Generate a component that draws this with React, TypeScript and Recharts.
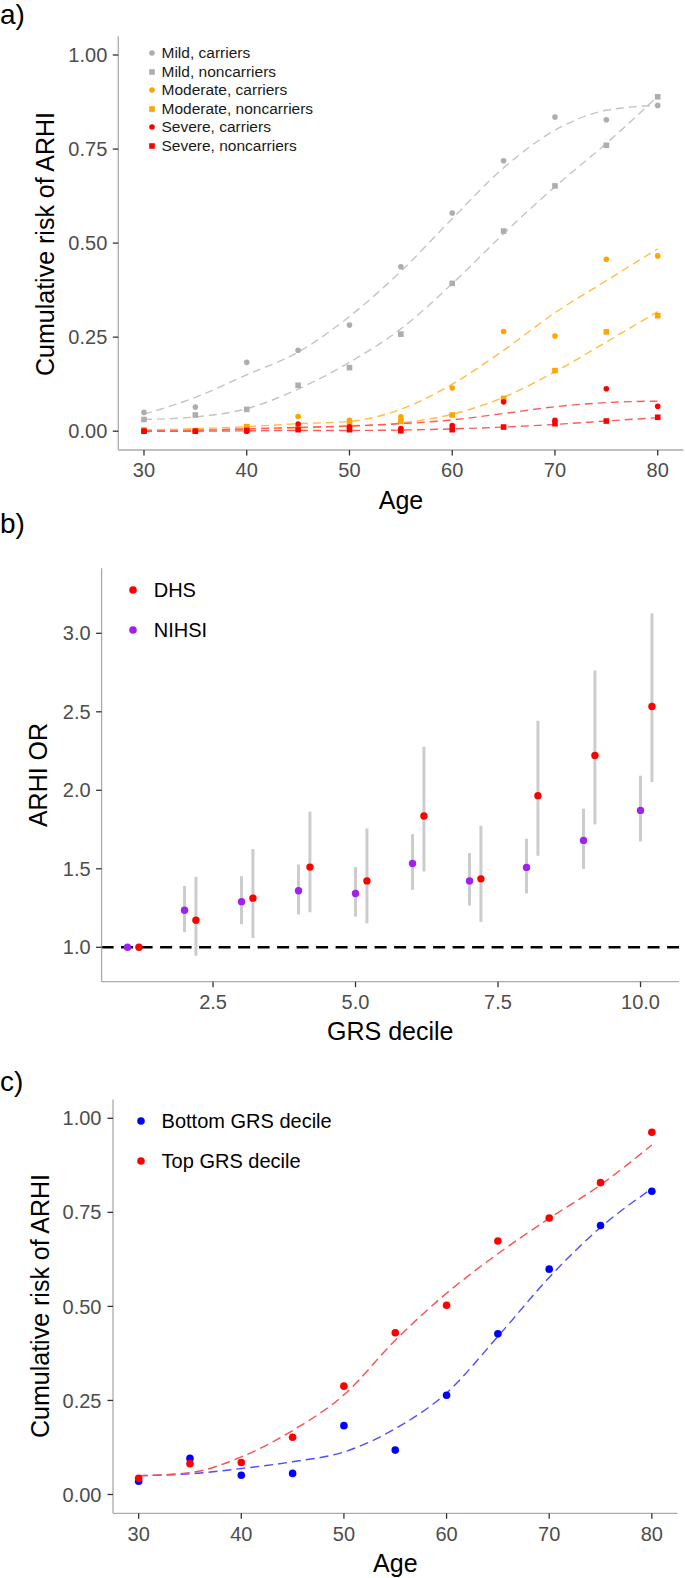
import React from "react";
import { ComposedChart, Line, Scatter, XAxis, YAxis, ReferenceLine, ErrorBar } from "recharts";

// a) cumulative risk of ARHI by age, severity and carrier status
const ages = [30, 35, 40, 45, 50, 55, 60, 65, 70, 75, 80];
const mildCarriers = [0.05, 0.064, 0.183, 0.215, 0.282, 0.437, 0.58, 0.719, 0.835, 0.828, 0.866];
const mildNoncarriers = [0.031, 0.043, 0.058, 0.122, 0.169, 0.258, 0.393, 0.532, 0.652, 0.76, 0.889];
const moderateCarriers = [0.003, 0.001, 0.01, 0.039, 0.029, 0.038, 0.115, 0.265, 0.253, 0.457, 0.466];
const moderateNoncarriers = [0.003, 0.001, 0.012, 0.008, 0.02, 0.026, 0.043, 0.087, 0.161, 0.264, 0.307];
const severeCarriers = [0.0, 0.0, 0.0, 0.019, 0.012, 0.007, 0.015, 0.078, 0.029, 0.113, 0.066];
const severeNoncarriers = [0.0, 0.0, 0.002, 0.004, 0.004, 0.001, 0.004, 0.011, 0.02, 0.027, 0.037];
// smoothed fits
const mildCarriersFit = [0.045, 0.09, 0.15, 0.21, 0.305, 0.425, 0.565, 0.7, 0.8, 0.853, 0.866];
const mildNoncarriersFit = [0.031, 0.038, 0.06, 0.112, 0.183, 0.272, 0.392, 0.525, 0.65, 0.765, 0.89];
const moderateCarriersFit = [0.003, 0.007, 0.012, 0.02, 0.026, 0.058, 0.125, 0.215, 0.315, 0.4, 0.485];
const moderateNoncarriersFit = [0.003, 0.004, 0.006, 0.009, 0.013, 0.022, 0.045, 0.09, 0.158, 0.237, 0.318];
const severeCarriersFit = [0.0, 0.002, 0.006, 0.01, 0.014, 0.02, 0.03, 0.047, 0.065, 0.076, 0.08];
const severeNoncarriersFit = [0.0, 0.0, 0.001, 0.002, 0.002, 0.003, 0.006, 0.011, 0.018, 0.027, 0.036];
const ageTicks = [30, 40, 50, 60, 70, 80];
const riskTicks = [0, 0.25, 0.5, 0.75, 1];

// b) odds ratio by GRS decile
const deciles = [1, 2, 3, 4, 5, 6, 7, 8, 9, 10];
const nihsiOR = [1.0, 1.236, 1.291, 1.36, 1.343, 1.534, 1.423, 1.509, 1.681, 1.872];
const nihsiLow = [1.0, 1.096, 1.147, 1.209, 1.196, 1.366, 1.266, 1.343, 1.5, 1.674];
const nihsiHigh = [1.0, 1.391, 1.453, 1.528, 1.511, 1.721, 1.6, 1.691, 1.883, 2.093];
const dhsOR = [1.0, 1.172, 1.313, 1.511, 1.423, 1.836, 1.436, 1.966, 2.222, 2.534];
const dhsLow = [1.0, 0.947, 1.06, 1.223, 1.153, 1.483, 1.162, 1.583, 1.783, 2.053];
const dhsHigh = [1.0, 1.449, 1.626, 1.864, 1.757, 2.278, 1.774, 2.443, 2.763, 3.127];
const decileTicks = [2.5, 5, 7.5, 10];
const orTicks = [1, 1.5, 2, 2.5, 3];
const DHS_DODGE = 0.2;

// c) cumulative risk, bottom vs top GRS decile
const bottomGrs = [0.035, 0.096, 0.051, 0.056, 0.183, 0.118, 0.264, 0.427, 0.599, 0.715, 0.806];
const topGrs = [0.043, 0.082, 0.085, 0.152, 0.288, 0.43, 0.503, 0.674, 0.735, 0.829, 0.963];
const bottomGrsFit = [0.05, 0.055, 0.069, 0.087, 0.113, 0.175, 0.27, 0.42, 0.577, 0.71, 0.813];
const topGrsFit = [0.05, 0.058, 0.1, 0.17, 0.265, 0.41, 0.535, 0.64, 0.734, 0.823, 0.929];

const FONT = '"Liberation Sans", Arial, Helvetica, sans-serif';
const tick = { fontSize: 20, fill: "#4D4D4D", fontFamily: FONT };
const axisLine = { stroke: "#ABABAB", strokeWidth: 1.3 };
const tickLine = { stroke: "#333333", strokeWidth: 1.3 };

const circle = (r: number, fill: string) => (p: any) => <circle cx={p.cx} cy={p.cy} r={r} fill={fill} />;
const square = (s: number, fill: string) => (p: any) => (
  <rect x={p.cx - s / 2} y={p.cy - s / 2} width={s} height={s} fill={fill} />
);

const severitySeries = [
  { name: "Mild, carriers", values: mildCarriers, fit: mildCarriersFit, color: "#ADADAD", line: "#C4C4C4", sq: false },
  { name: "Mild, noncarriers", values: mildNoncarriers, fit: mildNoncarriersFit, color: "#ADADAD", line: "#C4C4C4", sq: true },
  { name: "Moderate, carriers", values: moderateCarriers, fit: moderateCarriersFit, color: "#FFA500", line: "#FFBD45", sq: false },
  { name: "Moderate, noncarriers", values: moderateNoncarriers, fit: moderateNoncarriersFit, color: "#FFA500", line: "#FFBD45", sq: true },
  { name: "Severe, carriers", values: severeCarriers, fit: severeCarriersFit, color: "#FF0000", line: "#FF5A5A", sq: false },
  { name: "Severe, noncarriers", values: severeNoncarriers, fit: severeNoncarriersFit, color: "#FF0000", line: "#FF5A5A", sq: true },
];

function Label({ x, y, size, rotate, children, left }: any) {
  return (
    <div
      style={{
        position: "absolute",
        left: x,
        top: y,
        fontSize: size,
        lineHeight: 1,
        whiteSpace: "nowrap",
        color: "#000",
        transform: left ? "translate(0,-50%)" : `translate(-50%,-50%)${rotate ? " rotate(-90deg)" : ""}`,
      }}
    >
      {children}
    </div>
  );
}

function PanelA() {
  const rows = ages.map((age, i) => {
    const r: any = { age };
    severitySeries.forEach((s, k) => (r["fit" + k] = s.fit[i]));
    return r;
  });
  return (
    <div style={{ position: "absolute", left: 0, top: 0 }}>
      <ComposedChart width={685} height={500} data={rows} margin={{ top: 36.2, right: 1.6, bottom: 0, left: 0 }}>
        <XAxis type="number" dataKey="age" domain={[27.5, 82.5]} ticks={ageTicks} allowDataOverflow height={50}
          tick={tick} tickSize={5.5} tickMargin={7.5} axisLine={axisLine} tickLine={tickLine} interval={0} />
        <YAxis type="number" domain={[-0.05, 1.05]} ticks={riskTicks} allowDataOverflow width={118.3}
          tick={tick} tickSize={5.5} tickMargin={5.5} axisLine={axisLine} tickLine={tickLine} interval={0}
          tickFormatter={(v: number) => v.toFixed(2)} />
        {severitySeries.map((s, k) => (
          <Scatter key={"p" + k} data={ages.map((age, i) => ({ age, risk: s.values[i] }))} dataKey="risk"
            shape={s.sq ? square(5.6, s.color) : circle(2.8, s.color)} isAnimationActive={false} />
        ))}
        {severitySeries.map((s, k) => (
          <Line key={"l" + k} dataKey={"fit" + k} type="monotone" stroke={s.line} strokeWidth={1.4}
            strokeDasharray="8 5" dot={false} activeDot={false} isAnimationActive={false} />
        ))}
      </ComposedChart>
      {severitySeries.map((s, k) => {
        const y = 53.3 + k * 18.5;
        return (
          <React.Fragment key={s.name}>
            <svg style={{ position: "absolute", left: 146, top: y - 6 }} width={12} height={12}>
              {s.sq ? <rect x={3.2} y={3.2} width={5.6} height={5.6} fill={s.color} /> : <circle cx={6} cy={6} r={2.8} fill={s.color} />}
            </svg>
            <div style={{ position: "absolute", left: 161.5, top: y, transform: "translate(0,-50%)", fontSize: 15.5, lineHeight: 1, whiteSpace: "nowrap", color: "#1A1A1A" }}>
              {s.name}
            </div>
          </React.Fragment>
        );
      })}
    </div>
  );
}

function PanelB() {
  const nihsi = deciles.map((d, i) => ({ d, or: nihsiOR[i], ci: [nihsiOR[i] - nihsiLow[i], nihsiHigh[i] - nihsiOR[i]] }));
  const dhs = deciles.map((d, i) => ({ d: d + DHS_DODGE, or: dhsOR[i], ci: [dhsOR[i] - dhsLow[i], dhsHigh[i] - dhsOR[i]] }));
  return (
    <div style={{ position: "absolute", left: 0, top: 540 }}>
      <ComposedChart width={685} height={480} margin={{ top: 28.3, right: 6, bottom: 0, left: 0 }}>
        <XAxis type="number" dataKey="d" domain={[0.545, 10.675]} ticks={decileTicks} allowDataOverflow height={38.3}
          tick={tick} tickSize={5.5} tickMargin={7.5} axisLine={axisLine} tickLine={tickLine} interval={0}
          tickFormatter={(v: number) => v.toFixed(1)} />
        <YAxis type="number" domain={[0.781, 3.414]} ticks={orTicks} allowDataOverflow width={101.6}
          tick={tick} tickSize={5.5} tickMargin={5.5} axisLine={axisLine} tickLine={tickLine} interval={0}
          tickFormatter={(v: number) => v.toFixed(1)} />
        <ReferenceLine y={1} stroke="#000000" strokeWidth={2.6} strokeDasharray="12 7.5" />
        <Scatter data={nihsi} dataKey="or" shape={circle(3.7, "#A020F0")} isAnimationActive={false}>
          <ErrorBar dataKey="ci" direction="y" width={0} stroke="#CCCCCC" strokeWidth={3} />
        </Scatter>
        <Scatter data={dhs} dataKey="or" shape={circle(3.7, "#FF0000")} isAnimationActive={false}>
          <ErrorBar dataKey="ci" direction="y" width={0} stroke="#CCCCCC" strokeWidth={3} />
        </Scatter>
      </ComposedChart>
    </div>
  );
}

function PanelC() {
  const rows = ages.map((age, i) => ({ age, bottomFit: bottomGrsFit[i], topFit: topGrsFit[i] }));
  return (
    <div style={{ position: "absolute", left: 0, top: 1080 }}>
      <ComposedChart width={685} height={498} data={rows} margin={{ top: 19.5, right: 7.5, bottom: 0, left: 0 }}>
        <XAxis type="number" dataKey="age" domain={[27.5, 82.5]} ticks={ageTicks} allowDataOverflow height={64.7}
          tick={tick} tickSize={5.5} tickMargin={7.5} axisLine={axisLine} tickLine={tickLine} interval={0} />
        <YAxis type="number" domain={[-0.05, 1.05]} ticks={riskTicks} allowDataOverflow width={113}
          tick={tick} tickSize={5.5} tickMargin={6} axisLine={axisLine} tickLine={tickLine} interval={0}
          tickFormatter={(v: number) => v.toFixed(2)} />
        <Scatter data={ages.map((age, i) => ({ age, risk: bottomGrs[i] }))} dataKey="risk" shape={circle(3.8, "#0000FF")} isAnimationActive={false} />
        <Scatter data={ages.map((age, i) => ({ age, risk: topGrs[i] }))} dataKey="risk" shape={circle(3.8, "#FF0000")} isAnimationActive={false} />
        <Line dataKey="bottomFit" type="monotone" stroke="#4D4DFF" strokeWidth={1.4} strokeDasharray="9 5" dot={false} activeDot={false} isAnimationActive={false} />
        <Line dataKey="topFit" type="monotone" stroke="#FF4D4D" strokeWidth={1.4} strokeDasharray="9 5" dot={false} activeDot={false} isAnimationActive={false} />
      </ComposedChart>
    </div>
  );
}

function Dot({ x, y, color }: any) {
  return (
    <svg style={{ position: "absolute", left: x - 6, top: y - 6 }} width={12} height={12}>
      <circle cx={6} cy={6} r={3.8} fill={color} />
    </svg>
  );
}

export default function App() {
  return (
    <div style={{ position: "absolute", left: 0, top: 0, width: 685, height: 1578, background: "#fff", fontFamily: FONT, overflow: "hidden" }}>
      <PanelA />
      <PanelB />
      <PanelC />

      <Label x={0} y={15} size={28} left>a)</Label>
      <Label x={45} y={243.5} size={25} rotate>Cumulative risk of ARHI</Label>
      <Label x={401} y={499.5} size={25}>Age</Label>

      <Label x={0} y={524} size={28} left>b)</Label>
      <Label x={38} y={775} size={25} rotate>ARHI OR</Label>
      <Label x={390.3} y={1031.4} size={25}>GRS decile</Label>
      <Dot x={133} y={590} color="#FF0000" />
      <Label x={153.7} y={590} size={20} left>DHS</Label>
      <Dot x={133} y={630} color="#A020F0" />
      <Label x={153.7} y={630} size={20} left>NIHSI</Label>

      <Label x={0} y={1082} size={28} left>c)</Label>
      <Label x={40} y={1306.4} size={25} rotate>Cumulative risk of ARHI</Label>
      <Label x={395.3} y={1563} size={25}>Age</Label>
      <Dot x={140.6} y={1121} color="#0000FF" />
      <Label x={161.6} y={1121} size={20} left>Bottom GRS decile</Label>
      <Dot x={140.6} y={1161} color="#FF0000" />
      <Label x={161.6} y={1161} size={20} left>Top GRS decile</Label>
    </div>
  );
}
